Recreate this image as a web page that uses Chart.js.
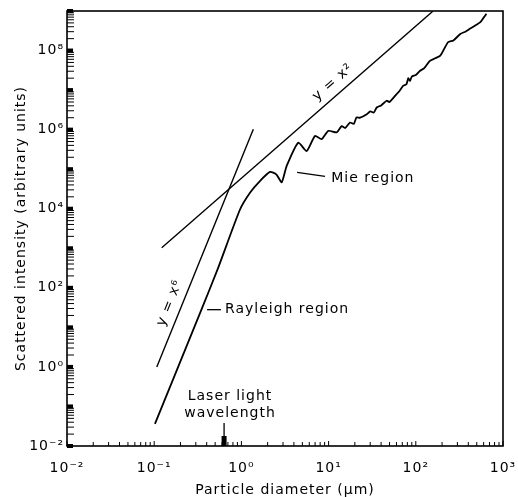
<!DOCTYPE html>
<html>
<head>
<meta charset="utf-8">
<script src="https://cdn.jsdelivr.net/npm/chart.js@4.4.1/dist/chart.umd.min.js"></script>
<style>
    html, body { margin: 0; padding: 0; background: #fff; }
    .chart-box { width: 518px; height: 497px; }
</style>
</head>
<body>
<div class="chart-box"><canvas id="scatterChart"></canvas></div>
<script>
// measured curve (particle diameter in um, scattered intensity)
const curveDiameter = [0.102, 0.351, 0.54, 0.964, 1.26, 1.63, 2.13, 2.51, 2.90, 3.30, 4.49, 5.60, 6.98, 8.32, 9.93,
    12.4, 14.1, 15.5, 17.6, 19.5, 20.9, 23.0, 27.4, 30.0, 33.0, 35.6, 40.0, 46.3, 50.0, 60.3, 65, 71.9, 78, 82, 85.7,
    90, 100, 112, 125, 145, 165, 191, 234, 270, 324, 370, 417, 480, 550, 600, 646];
const curveIntensity = [0.0363, 29.2, 316, 9550, 25700, 50100, 85100, 74100, 46800, 120000, 468000, 288000, 692000, 575000, 933000,
    851000, 1.23e6, 1.1e6, 1.51e6, 1.4e6, 2.04e6, 2.0e6, 2.45e6, 2.9e6, 2.7e6, 3.63e6, 4.1e6, 5.37e6, 5.0e6, 7.94e6, 9.5e6, 1.29e7, 1.4e7, 2.0e7, 1.7e7,
    2.2e7, 2.4e7, 3.09e7, 3.6e7, 5.5e7, 6.3e7, 7.41e7, 1.62e8, 1.8e8, 2.63e8, 3.0e8, 3.55e8, 4.3e8, 5.25e8, 6.8e8, 8.51e8];

// reference lines y = x^2 and y = x^6
const squareLineX = [0.122, 158];
const squareLineY = [1030, 1e9];
const sixthLineX = [0.107, 1.37];
const sixthLineY = [0.99, 1.02e6];

const laserWavelength = 0.633;

const xTickValues = [0.01, 0.1, 1, 10, 100, 1000];
const xTickLabels = ['10⁻²', '10⁻¹', '10⁰', '10¹', '10²', '10³'];
const yTickValues = [1e-2, 1e-1, 1, 10, 100, 1e3, 1e4, 1e5, 1e6, 1e7, 1e8, 1e9];
const yTickLabels = ['10⁻²', '', '10⁰', '', '10²', '', '10⁴', '', '10⁶', '', '10⁸', ''];

function toPoints(xs, ys) {
    return xs.map((v, i) => ({ x: v, y: ys[i] }));
}

document.addEventListener('DOMContentLoaded', function() {
    Chart.defaults.font.family = '"DejaVu Sans"';
    Chart.defaults.color = '#000';

    const frameAndLabels = {
        id: 'frameAndLabels',
        beforeDraw(chart) {
            chart.ctx.letterSpacing = '1px';
        },
        afterDraw(chart) {
            const { ctx, chartArea: { left, right, top, bottom }, scales: { x, y } } = chart;
            ctx.save();
            ctx.strokeStyle = '#000';
            ctx.fillStyle = '#000';

            // inside tick marks
            ctx.lineWidth = 1;
            for (let e = -2; e < 3; e++) {
                for (let m = 2; m < 10; m++) {
                    const px = x.getPixelForValue(m * Math.pow(10, e));
                    ctx.beginPath();
                    ctx.moveTo(px, bottom);
                    ctx.lineTo(px, bottom - 4);
                    ctx.stroke();
                }
            }
            xTickValues.forEach(v => {
                const px = x.getPixelForValue(v);
                ctx.beginPath();
                ctx.moveTo(px, bottom);
                ctx.lineTo(px, bottom - 5);
                ctx.stroke();
            });
            for (let e = -2; e < 9; e++) {
                for (let m = 2; m < 10; m++) {
                    const py = y.getPixelForValue(m * Math.pow(10, e));
                    ctx.beginPath();
                    ctx.moveTo(left, py);
                    ctx.lineTo(left + 7, py);
                    ctx.stroke();
                }
            }
            yTickValues.forEach(v => {
                const py = y.getPixelForValue(v);
                ctx.fillRect(left, py - 2, 6, 4);
            });

            // frame
            ctx.lineWidth = 1.6;
            ctx.strokeRect(left, top, right - left, bottom - top);

            ctx.font = '14px "DejaVu Sans"';
            ctx.letterSpacing = '1px';
            ctx.lineWidth = 1.3;

            // labels running along the two power lines
            const alongLine = (text, xs, ys, t, offset) => {
                const x1 = x.getPixelForValue(xs[0]), y1 = y.getPixelForValue(ys[0]);
                const x2 = x.getPixelForValue(xs[1]), y2 = y.getPixelForValue(ys[1]);
                const angle = Math.atan2(y2 - y1, x2 - x1);
                const cx = x1 + t * (x2 - x1) + Math.sin(angle) * offset;
                const cy = y1 + t * (y2 - y1) - Math.cos(angle) * offset;
                ctx.save();
                ctx.translate(cx, cy);
                ctx.rotate(angle);
                ctx.textAlign = 'center';
                ctx.textBaseline = 'middle';
                ctx.fillText(text, 0, 0);
                ctx.restore();
            };
            alongLine('y = x²', squareLineX, squareLineY, 0.66, 12);
            alongLine('y = x⁶', sixthLineX, sixthLineY, 0.25, 12);

            // Mie region
            ctx.beginPath();
            ctx.moveTo(x.getPixelForValue(4.35), y.getPixelForValue(8.3e4));
            ctx.lineTo(x.getPixelForValue(9.1), y.getPixelForValue(6.6e4));
            ctx.stroke();
            ctx.textAlign = 'left';
            ctx.textBaseline = 'middle';
            ctx.fillText('Mie region', x.getPixelForValue(10.7), y.getPixelForValue(5.86e4));

            // Rayleigh region
            ctx.beginPath();
            ctx.moveTo(x.getPixelForValue(0.404), y.getPixelForValue(28));
            ctx.lineTo(x.getPixelForValue(0.583), y.getPixelForValue(28));
            ctx.stroke();
            ctx.fillText('Rayleigh region', x.getPixelForValue(0.648), y.getPixelForValue(28));

            // laser light wavelength marker
            ctx.textAlign = 'center';
            ctx.fillText('Laser light', x.getPixelForValue(0.74), y.getPixelForValue(0.185));
            ctx.fillText('wavelength', x.getPixelForValue(0.74), y.getPixelForValue(0.0687));
            const lx = x.getPixelForValue(laserWavelength);
            ctx.beginPath();
            ctx.moveTo(lx, bottom - 23);
            ctx.lineTo(lx, bottom - 10);
            ctx.stroke();
            ctx.fillRect(lx - 2.5, bottom - 10, 5, 10);

            ctx.restore();
        }
    };

    const ctx = document.getElementById('scatterChart').getContext('2d');
    new Chart(ctx, {
        type: 'line',
        data: {
            datasets: [
                {
                    label: 'Scattered intensity',
                    data: toPoints(curveDiameter, curveIntensity),
                    borderColor: '#000',
                    borderWidth: 1.8,
                    pointRadius: 0,
                    tension: 0.2,
                    fill: false
                },
                {
                    label: 'y = x^2',
                    data: toPoints(squareLineX, squareLineY),
                    borderColor: '#000',
                    borderWidth: 1.4,
                    pointRadius: 0,
                    fill: false
                },
                {
                    label: 'y = x^6',
                    data: toPoints(sixthLineX, sixthLineY),
                    borderColor: '#000',
                    borderWidth: 1.4,
                    pointRadius: 0,
                    fill: false
                }
            ]
        },
        options: {
            responsive: true,
            maintainAspectRatio: false,
            animation: false,
            layout: { padding: { top: 11, right: 15, left: 0, bottom: 0 } },
            plugins: {
                legend: { display: false },
                tooltip: { enabled: false }
            },
            scales: {
                x: {
                    type: 'logarithmic',
                    min: 0.01,
                    max: 1000,
                    afterBuildTicks: scale => { scale.ticks = xTickValues.map(v => ({ value: v })); },
                    afterFit: scale => {
                        scale.height = 51;
                        scale.paddingLeft = 0;
                        scale.paddingRight = 0;
                    },
                    grid: { display: false, drawTicks: false },
                    border: { display: false },
                    ticks: {
                        autoSkip: false,
                        maxRotation: 0,
                        padding: 14,
                        font: { size: 14 },
                        callback: (value, index) => xTickLabels[index]
                    },
                    title: {
                        display: true,
                        text: 'Particle diameter (μm)',
                        font: { size: 14, lineHeight: 1 },
                        padding: 0
                    }
                },
                y: {
                    type: 'logarithmic',
                    min: 0.01,
                    max: 1e9,
                    afterBuildTicks: scale => { scale.ticks = yTickValues.map(v => ({ value: v })); },
                    afterFit: scale => {
                        scale.width = 67;
                        scale.paddingTop = 0;
                        scale.paddingBottom = 0;
                    },
                    grid: { display: false, drawTicks: false },
                    border: { display: false },
                    ticks: {
                        autoSkip: false,
                        padding: 3,
                        font: { size: 14 },
                        callback: (value, index) => yTickLabels[index]
                    },
                    title: {
                        display: true,
                        text: 'Scattered intensity (arbitrary units)',
                        font: { size: 14, lineHeight: 1 },
                        padding: { top: 14, bottom: 0 }
                    }
                }
            }
        },
        plugins: [frameAndLabels]
    });
});
</script>
</body>
</html>
